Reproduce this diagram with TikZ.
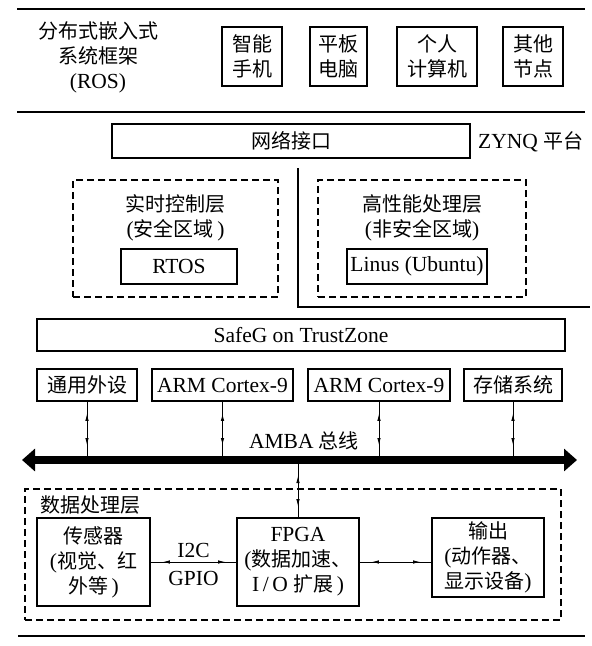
\documentclass[tikz,border=0pt]{standalone}
\usepackage{fontspec}
\setmainfont{Liberation Serif}
\newfontfamily\cjk{Noto Sans CJK SC}
\usetikzlibrary{arrows.meta,decorations.markings}
\newcommand\zhs[1]{{\cjk\fontsize{20}{25}\selectfont #1}}
\tikzset{
  txt/.style={font=\fontsize{21.5}{25}\selectfont, align=center, inner sep=0pt},
  box/.style={txt, draw, line width=1.6pt},
  dbox/.style={draw, dash pattern=on 7pt off 4pt, line width=1.3pt, inner sep=0pt},
  rule/.style={line width=2.4pt},
  link/.style={line width=0.8pt, postaction={decorate},
    decoration={markings,
      mark=at position 12pt with {\arrowreversed{Latex[length=7pt,width=3.5pt]}},
      mark=at position -11pt with {\arrow{Latex[length=7pt,width=3.5pt]}}}},
  bus/.style={line width=8pt, {Triangle[length=13pt,width=22pt]}-{Triangle[length=13pt,width=22pt]}}
}
\begin{document}
\begin{tikzpicture}[x=1pt,y=-1pt]
\useasboundingbox (0,0) rectangle (592,646);
% rules
\coordinate (r1a) at (17,9);   \coordinate (r1b) at (585,9);
\coordinate (r2a) at (17,112); \coordinate (r2b) at (585,112);
\coordinate (r3a) at (18,636); \coordinate (r3b) at (585,636);
\draw[rule] (r1a) -- (r1b);
\draw[rule] (r2a) -- (r2b);
\draw[rule] (r3a) -- (r3b);
% top section
\node[txt] (ros) at (98,57) {\zhs{分布式嵌入式}\\\zhs{系统框架}\\(ROS)};
\node[box, minimum width=60pt, minimum height=59pt] (phone) at (252,56.5) {\zhs{智能}\\\zhs{手机}};
\node[box, minimum width=57pt, minimum height=59pt] (tablet) at (338.5,56.5) {\zhs{平板}\\\zhs{电脑}};
\node[box, minimum width=80pt, minimum height=59pt] (pc) at (437,56.5) {\zhs{个人}\\\zhs{计算机}};
\node[box, minimum width=60pt, minimum height=59pt] (other) at (533,56.5) {\zhs{其他}\\\zhs{节点}};
% ZYNQ
\node[box, minimum width=358pt, minimum height=34pt] (net) at (291,141) {\zhs{网络接口}};
\node[txt, anchor=west] (zynq) at (478,142) {ZYNQ \zhs{平台}};
\coordinate (v1) at (298,168);
\coordinate (v2) at (298,307);
\coordinate (v3) at (590,307);
\draw[line width=1.6pt] (v1) -- (v2) -- (v3);
\node[dbox, minimum width=205pt, minimum height=117pt] (safe) at (175.5,238.5) {};
\node[txt] (safet) at (175.5,218) {\zhs{实时控制层}\\(\zhs{安全区域}\,)};
\node[box, minimum width=116pt, minimum height=35pt] (rtos) at (179,266.5) {RTOS};
\node[dbox, minimum width=208pt, minimum height=117pt] (nsafe) at (422,238.5) {};
\node[txt] (nsafet) at (422,218) {\zhs{高性能处理层}\\(\zhs{非安全区域})};
\node[box, minimum width=140pt, minimum height=35pt] (linux) at (417,266.5) {Linus (Ubuntu)};
\node[box, minimum width=528pt, minimum height=32pt] (safeg) at (301,335) {SafeG on TrustZone};
% row boxes
\node[box, minimum width=100pt, minimum height=32pt] (gp) at (87,385) {\zhs{通用外设}};
\node[box, minimum width=141pt, minimum height=32pt] (arm1) at (222.5,385) {ARM Cortex-9};
\node[box, minimum width=142pt, minimum height=32pt] (arm2) at (379,385) {ARM Cortex-9};
\node[box, minimum width=98pt, minimum height=32pt] (stor) at (513,385) {\zhs{存储系统}};
% bus
\coordinate (busL) at (22,460);
\coordinate (busR) at (577,460);
\coordinate (bustop) at (0,456);
\coordinate (busbot) at (0,464);
\draw[bus] (busL) -- (busR);
\node[txt] (amba) at (304,441) {AMBA \zhs{总线}};
\draw[link] (gp.south) -- (gp.south |- bustop);
\draw[link] (arm1.south) -- (arm1.south |- bustop);
\draw[link] (arm2.south) -- (arm2.south |- bustop);
\draw[link] (stor.south) -- (stor.south |- bustop);
% data layer
\node[dbox, minimum width=536pt, minimum height=131pt] (data) at (293,554.5) {};
\node[txt, anchor=west] (datat) at (40,505) {\zhs{数据处理层}};
\node[box, minimum width=113pt, minimum height=88pt] (sensor) at (93.5,562) {\zhs{传感器}\\(\zhs{视觉、红}\\\zhs{外等}\,)};
\node[box, minimum width=122pt, minimum height=88pt] (fpga) at (298,562) {FPGA\\(\zhs{数据加速、}\\I\,/\,O \zhs{扩展}\,)};
\node[box, minimum width=112pt, minimum height=79pt] (out) at (488,557.5) {\zhs{输出}\\(\zhs{动作器、}\\\zhs{显示设备})};
\draw[link] (fpga.north |- busbot) -- (fpga.north);
\draw[link] (sensor.east |- fpga.west) -- (fpga.west);
\draw[link] (fpga.east) -- (fpga.east -| out.west);
\node[txt] (i2c) at (193.5,550) {I2C};
\node[txt] (gpio) at (193.5,578) {GPIO};
\end{tikzpicture}
\end{document}
